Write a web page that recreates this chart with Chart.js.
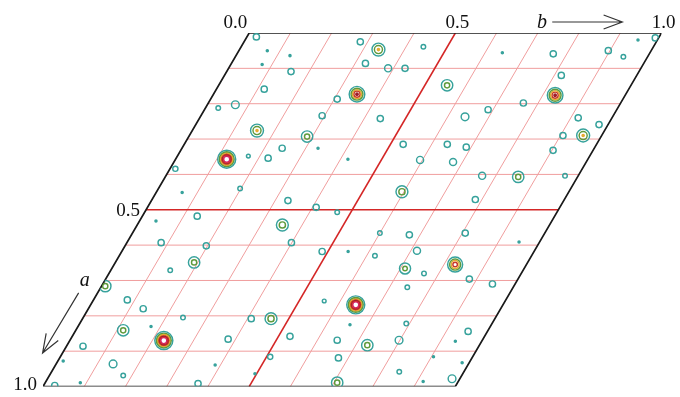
<!DOCTYPE html>
<html><head><meta charset="utf-8">
<script src="https://cdn.jsdelivr.net/npm/chart.js@4.4.0/dist/chart.umd.min.js"></script>
<style>html,body{margin:0;padding:0;background:#fff}#c{display:block}</style>
</head><body>
<canvas id="c" width="680" height="397"></canvas>
<script>
// ---- data (fractional cell coordinates) ----
const gridSteps = [0.1,0.2,0.3,0.4,0.5,0.6,0.7,0.8,0.9];
const bTickValues = [0.0, 0.5, 1.0];
const bTickLabels = ['0.0','0.5','1.0'];
const aTickValues = [0.5, 1.0];
const aTickLabels = ['0.5','1.0'];
const axisNames = ['a','b'];

// peak positions along a, along b, and peak height (in contour-level units)
const peakA = [0.357,0.870,0.769, 0.173,0.176,0.655,
 0.276,0.293,0.047,0.148,0.290,0.407,0.449,0.543,0.649,0.716,0.808,0.841,0.666,0.883,0.989,
 0.011,0.109,0.159,0.212,0.203,0.326,0.234,0.187,0.025,0.086,0.100,0.100,0.242,0.315,0.039,0.359,0.315,0.323,0.365,0.404,
 0.237,0.217,0.198,0.059,0.120,0.240,0.259,0.290,0.332,0.404,0.050,0.067,0.014,0.354,0.348,0.440,0.474,0.493,0.507,0.518,
 0.593,0.602,0.593,0.618,0.471,0.566,0.571,0.566,0.616,0.630,0.671,0.755,0.780,0.805,0.808,0.886,0.866,0.858,0.936,0.969,
 0.916,0.992,0.997,0.680,0.696,0.710,0.719,0.758,0.822,0.869,0.869,0.844,0.919,0.958,0.978,0.384,
 0.050,0.064,0.089,0.326,0.056,0.020,0.451,0.532,0.618,0.591,0.830,0.928,0.939,0.964,0.989,0.825,0.872,0.916,0.933,0.986,0.357];
const peakB = [0.124,0.228,0.643, 0.348,0.830,0.827,
 0.157,0.287,0.337,0.554,0.955,0.856,0.595,0.352,0.191,0.009,0.457,0.115,0.711,0.728,0.708,
 0.023,0.156,0.116,0.031,0.068,0.243,0.294,0.307,0.282,0.325,0.387,0.428,0.439,0.531,0.442,0.594,0.638,0.688,0.677,0.767,
 0.642,0.688,0.764,0.767,0.817,0.918,0.978,0.906,0.903,0.968,0.896,0.941,0.992,0.223,0.172,0.198,0.331,0.409,0.467,0.133,
 0.083,0.197,0.399,0.486,0.784,0.600,0.674,0.807,0.715,0.620,0.144,0.082,0.133,0.242,0.409,0.040,0.382,0.528,0.138,0.179,
 0.509,0.372,0.027,0.764,0.882,0.945,0.743,0.561,0.792,0.648,0.798,0.953,0.676,0.843,0.981,0.013,
 0.069,0.131,0.076,0.330,0.642,0.953,0.063,0.040,0.549,0.950,0.177,0.013,0.387,0.496,0.085,0.657,0.936,0.905,0.983,0.915,0.418];
const peakH = [9.0,9.0,9.0, 5.2,5.2,4.6,
 3.1,2.4,3.1,2.4,3.1,2.4,2.6,2.6,2.4,2.4,2.6,2.4,2.3,2.4,2.4,
 1.3,1.3,1.3,1.15,1.5,1.3,1.3,1.3,1.3,1.3,1.4,1.3,1.3,1.3,1.15,1.4,1.3,1.3,1.4,1.4,
 1.5,1.3,1.3,1.3,1.3,1.3,1.3,1.3,1.3,1.15,1.3,1.15,1.3,1.3,1.1,1.15,1.3,1.3,1.15,1.3,
 1.3,1.3,1.3,1.3,1.3,1.15,1.3,1.3,1.4,1.15,1.15,1.3,1.3,1.15,1.3,1.3,1.3,1.3,1.5,1.15,
 1.2,1.3,1.3,1.15,1.3,1.3,1.15,1.1,1.15,1.3,1.5,1.3,1.3,1.15,1.5,1.2,
 1.03,1.03,1.03,1.03,1.03,1.03,1.03,1.03,1.03,1.03,1.03,1.03,1.03,1.03,1.03,1.03,1.03,1.03,1.03,1.03,1.03];
const contourLevels = [1,2,3,4,5,6,7];
const levelColors = ['#37a29c','#5f9a3c','#e6aa30','#c8382c','#9e1e28','#e0303a','#d0206e'];

// ---- geometry: hexagonal cell, gamma = 120 deg ----
const SKEW = 0.5;
const toXY = (a,b) => ({x: b - SKEW*a, y: -a});
const PEAK_WIDTH_PX = 4.3;

const datasets = [];
// grid lines
gridSteps.forEach(v => {
  const mid = Math.abs(v-0.5) < 1e-9;
  const style = mid ? {borderColor:'#d42626', borderWidth:1.6, order:2} : {borderColor:'#f09e9e', borderWidth:1, order:3};
  datasets.push(Object.assign({data:[toXY(v,0), toXY(v,1)], showLine:true, pointRadius:0, fill:false}, style));
  datasets.push(Object.assign({data:[toXY(0,v), toXY(1,v)], showLine:true, pointRadius:0, fill:false}, style));
});
// cell outline
datasets.push({data:[toXY(0,0),toXY(0,1),toXY(1,1),toXY(1,0),toXY(0,0)], showLine:true, pointRadius:0,
  borderColor:'#1a1a1a', borderWidth:1.7, fill:false, order:1});
// contours
contourLevels.forEach((lev, k) => {
  const pts = [];
  peakH.forEach((h, i) => { if (h > lev) pts.push(Object.assign(toXY(peakA[i], peakB[i]), {h})); });
  const col = levelColors[k];
  const rad = c => PEAK_WIDTH_PX * Math.sqrt(2*Math.log(c.raw.h/lev));
  datasets.push({
    data: pts, isContour: true, order: 0,
    pointStyle: 'circle',
    pointRadius: rad,
    pointBorderColor: col,
    pointBackgroundColor: c => rad(c) < 1.4 ? col : 'rgba(0,0,0,0)',
    pointBorderWidth: 1.45
  });
});

function cellPath(chart){
  const xs = chart.scales.x, ys = chart.scales.y, ctx = chart.ctx;
  ctx.beginPath();
  [[0,0],[0,1],[1,1],[1,0]].forEach((p,i) => {
    const q = toXY(p[0],p[1]);
    const X = xs.getPixelForValue(q.x), Y = ys.getPixelForValue(q.y);
    i ? ctx.lineTo(X,Y) : ctx.moveTo(X,Y);
  });
  ctx.closePath();
}

const cellClip = {
  id:'cellClip',
  beforeDatasetDraw(chart, args){
    if (!chart.data.datasets[args.index].isContour) return;
    chart.ctx.save(); cellPath(chart); chart.ctx.clip();
  },
  afterDatasetDraw(chart, args){
    if (!chart.data.datasets[args.index].isContour) return;
    chart.ctx.restore();
  }
};

function arrow(ctx, x1,y1,x2,y2){
  const ang = Math.atan2(y2-y1, x2-x1), L = 20, w = 0.36;
  ctx.beginPath();
  ctx.moveTo(x1,y1); ctx.lineTo(x2,y2);
  ctx.moveTo(x2 - L*Math.cos(ang-w), y2 - L*Math.sin(ang-w));
  ctx.lineTo(x2,y2);
  ctx.lineTo(x2 - L*Math.cos(ang+w), y2 - L*Math.sin(ang+w));
  ctx.stroke();
}

const labels = {
  id:'cellLabels',
  afterDraw(chart){
    const ctx = chart.ctx, xs = chart.scales.x, ys = chart.scales.y;
    const P = (a,b) => { const q = toXY(a,b); return [xs.getPixelForValue(q.x), ys.getPixelForValue(q.y)]; };
    ctx.save();
    ctx.fillStyle = '#111';
    ctx.font = '19px "Liberation Serif", "DejaVu Serif", serif';
    ctx.textBaseline = 'alphabetic';
    bTickValues.forEach((v,i) => {
      const [x,y] = P(0,v);
      ctx.textAlign = i === 0 ? 'right' : 'center';
      ctx.fillText(bTickLabels[i], i === 0 ? x-2 : x+2, y-5);
    });
    ctx.textBaseline = 'middle';
    ctx.textAlign = 'right';
    aTickValues.forEach((v,i) => {
      const [x,y] = P(v,0);
      ctx.fillText(aTickLabels[i], x-6, i === aTickValues.length-1 ? y-2 : y+1);
    });
    // axis names and arrows
    ctx.font = 'italic 20px "Liberation Serif", "DejaVu Serif", serif';
    ctx.textBaseline = 'alphabetic';
    ctx.textAlign = 'center';
    let [bx,by] = P(0,0.71);
    ctx.fillText(axisNames[1], bx, by-5);
    let [ax,ay] = P(0.715,0);
    ctx.fillText(axisNames[0], ax-17, ay);
    ctx.strokeStyle = '#333'; ctx.lineWidth = 1.2;
    const [b1x,b1y] = P(0,0.735), [b2x,b2y] = P(0,0.905);
    arrow(ctx, b1x, b1y-11, b2x, b2y-11);
    const [a1x,a1y] = P(0.735,0), [a2x,a2y] = P(0.905,0);
    arrow(ctx, a1x-19, a1y, a2x-20, a2y);
    ctx.restore();
  }
};

new Chart(document.getElementById('c'), {
  type: 'scatter',
  data: { datasets },
  options: {
    responsive: false,
    animation: false,
    events: [],
    layout: { padding: { left: 43, right: 18.5, top: 33, bottom: 5 } },
    plugins: { legend: { display: false }, tooltip: { enabled: false } },
    scales: {
      x: { type: 'linear', min: -0.5, max: 1.0, display: false },
      y: { type: 'linear', min: -1.0, max: 0.0, display: false }
    }
  },
  plugins: [cellClip, labels]
});
</script>
</body></html>
